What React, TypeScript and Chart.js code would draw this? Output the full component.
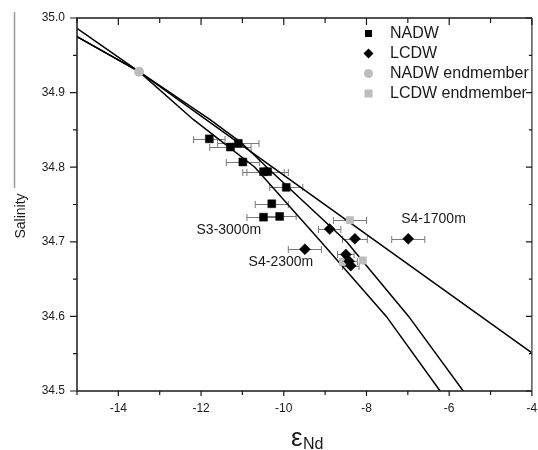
import { useEffect, useRef } from 'react';
import { Chart, registerables } from 'chart.js';

Chart.register(...registerables);

// ---- data ----
const nadwX = [-11.8, -11.29, -11.1, -10.99, -10.49, -10.39, -9.94, -10.29, -10.49, -10.1];
const nadwY = [34.838, 34.827, 34.832, 34.807, 34.794, 34.794, 34.773, 34.751, 34.733, 34.734];
const nadwErr = [0.38, 0.5, 0.5, 0.4, 0.5, 0.5, 0.4, 0.4, 0.4, 0.4];

const lcdwX = [-8.89, -9.49, -8.28, -8.5, -8.42, -8.38, -6.99];
const lcdwY = [34.717, 34.69, 34.704, 34.683, 34.674, 34.668, 34.704];
const lcdwErr = [0.27, 0.4, 0.3, 0.2, 0.2, 0.2, 0.4];

const nadwEndX = [-13.5];
const nadwEndY = [34.928];

const lcdwEndX = [-8.4, -8.57, -8.09];
const lcdwEndY = [34.729, 34.673, 34.675];
const lcdwEndErr = [0.4, 0, 0];

const mix1X = [-15, -13.5, -4];
const mix1Y = [34.986, 34.928, 34.551];
const mix2X = [-15, -13.5, -11.79, -11.03, -10.41, -8.48, -6.98, -5.66];
const mix2Y = [34.975, 34.928, 34.864, 34.833, 34.8, 34.7, 34.6, 34.5];
const mix3X = [-15, -13.5, -12.19, -10.7, -9.1, -7.52, -6.22];
const mix3Y = [34.975, 34.928, 34.864, 34.8, 34.7, 34.6, 34.5];

const xTicks = [-14, -12, -10, -8, -6, -4];
const yTicks = [34.5, 34.6, 34.7, 34.8, 34.9, 35.0];

const labelTexts = ['S3-3000m', 'S4-2300m', 'S4-1700m'];
const labelX = [-12.11, -10.85, -7.16];
const labelY = [34.716, 34.673, 34.731];

const legendNames = ['NADW', 'LCDW', 'NADW endmember', 'LCDW endmember'];

const FONT = '"Liberation Sans", Arial, Helvetica, sans-serif';
const GRAY_MARK = '#bdbdbd';

const pts = (xs: number[], ys: number[]) => xs.map((v, i) => ({ x: v, y: ys[i] }));

const customPlugin = {
  id: 'customDraw',
  beforeDatasetsDraw(chart: any) {
    const { ctx, scales } = chart;
    const x = scales.x;
    const y = scales.y;
    ctx.save();
    ctx.strokeStyle = '#7a7a7a';
    ctx.lineWidth = 1;
    const sets: [number[], number[], number[]][] = [
      [nadwX, nadwY, nadwErr],
      [lcdwX, lcdwY, lcdwErr],
      [lcdwEndX, lcdwEndY, lcdwEndErr],
    ];
    for (const [xs, ys, es] of sets) {
      xs.forEach((xv, i) => {
        const e = es[i];
        if (!e) return;
        const p0 = x.getPixelForValue(xv - e);
        const p1 = x.getPixelForValue(xv + e);
        const py = Math.round(y.getPixelForValue(ys[i])) + 0.5;
        ctx.beginPath();
        ctx.moveTo(p0, py);
        ctx.lineTo(p1, py);
        ctx.moveTo(p0, py - 3.5);
        ctx.lineTo(p0, py + 3.5);
        ctx.moveTo(p1, py - 3.5);
        ctx.lineTo(p1, py + 3.5);
        ctx.stroke();
      });
    }
    ctx.restore();
  },
  afterDraw(chart: any) {
    const { ctx, chartArea, scales } = chart;
    const x = scales.x;
    const y = scales.y;
    const { left, right, top, bottom } = chartArea;
    ctx.save();

    // frame
    ctx.lineWidth = 1.5;
    ctx.strokeStyle = '#1a1a1a';
    ctx.beginPath();
    ctx.moveTo(left, bottom);
    ctx.lineTo(left, top);
    ctx.lineTo(right, top);
    ctx.moveTo(left, bottom);
    ctx.lineTo(right, bottom);
    ctx.stroke();
    ctx.strokeStyle = '#555';
    ctx.beginPath();
    ctx.moveTo(right, top);
    ctx.lineTo(right, bottom);
    ctx.stroke();

    // ticks
    ctx.lineWidth = 1.2;
    ctx.strokeStyle = '#1a1a1a';
    for (let v = -15; v <= -4; v++) {
      const px = x.getPixelForValue(v);
      const major = v % 2 === 0;
      ctx.beginPath();
      ctx.moveTo(px, bottom);
      ctx.lineTo(px, bottom + (major ? 5 : 4));
      ctx.moveTo(px, top);
      ctx.lineTo(px, top + (major ? 7 : 5));
      ctx.stroke();
    }
    for (let k = 0; k <= 10; k++) {
      const v = 34.5 + k * 0.05;
      const py = y.getPixelForValue(v);
      const major = k % 2 === 0;
      ctx.beginPath();
      ctx.moveTo(left, py);
      ctx.lineTo(left - (major ? 7 : 4), py);
      ctx.moveTo(right, py);
      ctx.lineTo(right - (major ? 6 : 3), py);
      ctx.stroke();
    }

    // tick labels
    ctx.fillStyle = '#1a1a1a';
    ctx.font = `12px ${FONT}`;
    ctx.textAlign = 'center';
    ctx.textBaseline = 'middle';
    xTicks.forEach((v) => {
      ctx.fillText(String(v), x.getPixelForValue(v), 409);
    });
    ctx.textAlign = 'right';
    yTicks.forEach((v) => {
      ctx.fillText(v.toFixed(1), 65, y.getPixelForValue(v));
    });

    // axis titles
    ctx.textAlign = 'left';
    ctx.textBaseline = 'alphabetic';
    ctx.font = `26px ${FONT}`;
    ctx.fillText('\u03B5', 291, 446);
    ctx.font = `16px ${FONT}`;
    ctx.fillText('Nd', 303, 449);

    ctx.save();
    ctx.translate(25, 216);
    ctx.rotate(-Math.PI / 2);
    ctx.textAlign = 'center';
    ctx.textBaseline = 'alphabetic';
    ctx.font = `14px ${FONT}`;
    ctx.fillText('Salinity', 0, 0);
    ctx.restore();

    // stray vertical rule at the far left
    ctx.strokeStyle = '#9a9a9a';
    ctx.lineWidth = 1.5;
    ctx.beginPath();
    ctx.moveTo(14.5, 12);
    ctx.lineTo(14.5, 188);
    ctx.stroke();

    // annotations
    ctx.fillStyle = '#1a1a1a';
    ctx.font = `14px ${FONT}`;
    ctx.textAlign = 'left';
    ctx.textBaseline = 'middle';
    labelTexts.forEach((t, i) => {
      ctx.fillText(t, x.getPixelForValue(labelX[i]), y.getPixelForValue(labelY[i]));
    });

    // legend
    const lx = 368.5;
    const ly0 = 33.5;
    const dy = 20;
    legendNames.forEach((name, i) => {
      const cy = ly0 + i * dy;
      ctx.beginPath();
      if (i === 0) {
        ctx.fillStyle = '#000';
        ctx.rect(lx - 3.5, cy - 3.5, 7, 7);
      } else if (i === 1) {
        ctx.fillStyle = '#000';
        ctx.moveTo(lx - 5, cy);
        ctx.lineTo(lx, cy - 5);
        ctx.lineTo(lx + 5, cy);
        ctx.lineTo(lx, cy + 5);
        ctx.closePath();
      } else if (i === 2) {
        ctx.fillStyle = GRAY_MARK;
        ctx.arc(lx, cy, 4.5, 0, Math.PI * 2);
      } else {
        ctx.fillStyle = GRAY_MARK;
        ctx.rect(lx - 4, cy - 4, 8, 8);
      }
      ctx.fill();
      ctx.fillStyle = '#1a1a1a';
      ctx.font = `16px ${FONT}`;
      ctx.textAlign = 'left';
      ctx.textBaseline = 'middle';
      ctx.fillText(name, 390, cy + 0.5);
    });

    ctx.restore();
  },
};

export default function App() {
  const ref = useRef<HTMLCanvasElement>(null);
  useEffect(() => {
    const canvas = ref.current;
    if (!canvas) return;
    const lineDs = (xs: number[], ys: number[]) => ({
      data: pts(xs, ys),
      showLine: true,
      borderColor: '#000',
      borderWidth: 1.5,
      pointRadius: 0,
      fill: false,
      tension: 0,
    });
    const chart = new Chart(canvas, {
      type: 'scatter',
      data: {
        datasets: [
          {
            label: 'LCDW',
            data: pts(lcdwX, lcdwY),
            pointStyle: 'rectRot',
            pointRadius: 5.5,
            backgroundColor: '#000',
            borderColor: '#000',
            borderWidth: 0.5,
          },
          {
            label: 'NADW',
            data: pts(nadwX, nadwY),
            pointStyle: 'rect',
            pointRadius: 5.6,
            backgroundColor: '#000',
            borderColor: '#000',
            borderWidth: 0.5,
          },
          {
            label: 'NADW endmember',
            data: pts(nadwEndX, nadwEndY),
            pointStyle: 'circle',
            pointRadius: 5,
            backgroundColor: GRAY_MARK,
            borderColor: GRAY_MARK,
            borderWidth: 0,
          },
          {
            label: 'LCDW endmember',
            data: pts(lcdwEndX, lcdwEndY),
            pointStyle: 'rect',
            pointRadius: 5.6,
            backgroundColor: GRAY_MARK,
            borderColor: GRAY_MARK,
            borderWidth: 0,
          },
          lineDs(mix1X, mix1Y),
          lineDs(mix2X, mix2Y),
          lineDs(mix3X, mix3Y),
        ] as any,
      },
      options: {
        animation: false,
        responsive: false,
        events: [],
        layout: { padding: { left: 77, top: 18, right: 1.5, bottom: 59 } },
        plugins: { legend: { display: false }, tooltip: { enabled: false } },
        scales: {
          x: { type: 'linear', min: -15, max: -4, display: false },
          y: { type: 'linear', min: 34.5, max: 35.0, display: false },
        },
      },
      plugins: [customPlugin],
    });
    return () => chart.destroy();
  }, []);
  return (
    <div style={{ position: 'fixed', left: 0, top: 0, width: 538, height: 450, background: '#fff', overflow: 'hidden' }}>
      <canvas ref={ref} width={538} height={450} style={{ display: 'block' }} />
    </div>
  );
}
